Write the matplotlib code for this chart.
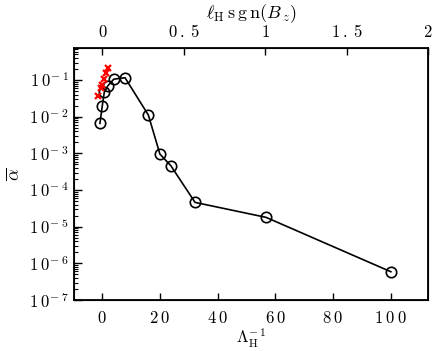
import numpy as np
import matplotlib
matplotlib.use("Agg")
from matplotlib import pyplot as plt
from matplotlib.ticker import FixedLocator, LogLocator, NullFormatter

plt.rcParams['mathtext.fontset'] = 'cm'
plt.rcParams['font.family'] = 'serif'
plt.rcParams['font.serif'] = ['DejaVu Serif']

# black circles: inverse Lambda_H vs alpha
inv_lambda = [-0.8, 0.0, 0.7, 1.9, 4.0, 7.9, 16.0, 20.0, 23.8, 32.2, 56.8, 100.1]
alpha = [0.0066, 0.0195, 0.046, 0.069, 0.106, 0.116, 0.0111, 9.6e-4, 4.6e-4,
         4.6e-5, 1.8e-5, 5.9e-7]

# red crosses
red_x = [-1.4, -0.55, 0.0, 0.6, 1.2, 1.9]
red_alpha = [0.037, 0.059, 0.075, 0.106, 0.152, 0.209]

bottom_ticks = [0, 20, 40, 60, 80, 100]
top_ticks = [0, 0.5, 1, 1.5, 2]
top_labels = ["0", "0.5", "1", "1.5", "2"]
y_ticks = [1e-7, 1e-6, 1e-5, 1e-4, 1e-3, 1e-2, 1e-1]


def spaced(s):
    # loose letter spacing like the original typesetting
    return "$" + r"\:".join(s) + "$"


fig = plt.figure(figsize=(4.36, 3.51), dpi=100)
ax = fig.add_axes([0.1697, 0.1453, 0.8120, 0.7179])

ax.semilogy(inv_lambda, alpha, '-o', color='black', lw=1.2, ms=7.5,
            mfc='none', mec='black', mew=1.2)
ax.plot(red_x, red_alpha, 'x', color='red', ms=5, mew=1.6, zorder=5)

ax.set_xlim(-9.8, 113)
ax.set_ylim(1e-7, 0.75)

ax.xaxis.set_major_locator(FixedLocator(bottom_ticks))
ax.set_xticklabels([spaced(str(t)) for t in bottom_ticks])
ax.yaxis.set_major_locator(FixedLocator(y_ticks))
ax.set_yticklabels([r"$1\:0^{-\:%d}$" % -int(np.log10(t)) for t in y_ticks])
ax.yaxis.set_minor_locator(LogLocator(base=10, subs=np.arange(2, 10), numticks=20))
ax.yaxis.set_minor_formatter(NullFormatter())

ax.tick_params(axis='x', which='both', direction='in', top=False, length=5,
               width=1, labelsize=12, pad=7)
ax.tick_params(axis='y', which='major', direction='in', right=False, length=6,
               width=1, labelsize=12, pad=4)
ax.tick_params(axis='y', which='minor', direction='in', right=False, length=3,
               width=0.8)

ax.set_xlabel(r"$\Lambda_{\rm H}^{-\:1}$", fontsize=12, labelpad=0)
ax.set_ylabel(r"$\overline{\alpha}$", fontsize=13, labelpad=4)

for s in ax.spines.values():
    s.set_linewidth(1.3)

top = ax.twiny()
top.set_xlim(-0.174, 2)
top.xaxis.set_major_locator(FixedLocator(top_ticks))
top.set_xticklabels([spaced(l) for l in top_labels])
top.tick_params(axis='x', direction='in', length=5, width=1, labelsize=12, pad=5)
top.set_xlabel(r"$\ell_{\rm H}\:{\rm s\,g\,n}(B_{\:z})$", fontsize=13, labelpad=4)

fig.savefig("out.png", dpi=100)
